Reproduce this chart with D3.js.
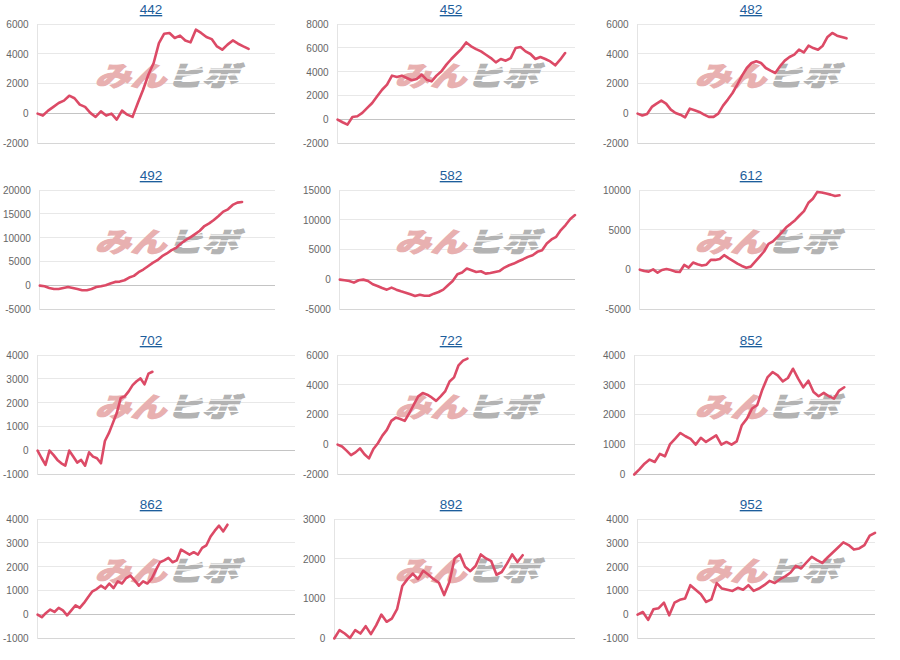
<!DOCTYPE html>
<html><head><meta charset="utf-8">
<script src="https://cdn.jsdelivr.net/npm/d3@7"></script>
<style>body{margin:0;background:#fff;} svg{display:block}</style>
</head><body><svg id="c" width="900" height="660"></svg>
<script>
// ---- data ----
const titles = ["442","452","482","492","582","612","702","722","852","862","892","952"];
const v442 = [0,-130,200,450,710,870,1200,1030,600,450,50,-220,150,-130,0,-400,200,-70,-220,710,1600,2600,3390,4720,5350,5400,5060,5220,4900,4770,5620,5400,5130,4990,4500,4280,4620,4900,4680,4500,4330];
const v452 = [0,-220,-420,220,280,560,975,1390,1950,2500,2920,3680,3560,3680,3480,3290,3400,3760,3340,3200,3680,4040,4600,5070,5490,5900,6460,6130,5900,5710,5430,5150,4790,5070,4930,5150,5990,6070,5710,5490,5070,5240,5070,4870,4540,5010,5570];
const v482 = [0,-130,-20,450,670,870,670,270,45,-70,-245,335,225,110,-70,-220,-220,0,535,940,1380,1940,2540,3055,3390,3500,3390,3055,2880,2720,3170,3550,3790,3950,4280,4100,4550,4390,4280,4550,5130,5400,5220,5130,5040];
const v492 = [0,-140,-490,-700,-700,-490,-280,-490,-700,-980,-980,-700,-280,-140,70,420,770,840,1120,1680,2030,2800,3360,4060,4760,5320,6160,6720,7420,7910,8820,9520,10080,10780,11480,12460,13020,13720,14560,15470,15960,16870,17360,17500];
const v582 = [0,-110,-220,-500,-110,0,-220,-780,-1060,-1400,-1680,-1340,-1680,-1960,-2180,-2460,-2740,-2520,-2690,-2690,-2350,-2070,-1680,-950,-220,900,1180,1850,1570,1290,1400,1010,1120,1290,1460,2020,2410,2690,3080,3420,3810,4090,4650,4930,6050,6720,7170,8290,9130,10140,10810];
const v612 = [0,-170,-250,40,-380,-40,85,-40,-250,-300,590,250,890,680,510,630,1225,1225,1350,1820,1440,1100,760,465,250,380,1010,1650,2280,3250,3550,4100,4690,5320,5750,6210,6800,7350,8400,8910,9760,9680,9550,9420,9250,9340];
const v702 = [0,-310,-600,0,-180,-390,-530,-630,0,-250,-500,-390,-630,-70,-250,-320,-530,400,730,1150,1570,2200,2270,2480,2740,2900,3020,2770,3220,3300];
const v722 = [0,-130,-400,-700,-520,-250,-650,-920,-290,90,600,990,1590,1810,1720,1590,2100,2670,3230,3450,3340,3160,2930,3230,3560,4230,4500,5310,5620,5760];
const v852 = [0,170,360,500,420,690,610,1020,1200,1390,1280,1190,1000,1230,1090,1200,1310,1000,1090,1000,1110,1650,1870,2210,2320,2840,3250,3430,3320,3120,3230,3540,3210,2920,3140,2760,2620,2730,2620,2540,2810,2920];
const v862 = [0,-110,70,210,110,280,180,-30,180,390,280,490,740,975,1070,1210,1090,1300,1110,1390,1300,1530,1630,1430,1210,1390,1300,1490,1850,2190,2270,2370,2190,2270,2720,2610,2510,2610,2510,2790,2900,3270,3510,3720,3480,3760];
const v892 = [0,210,125,15,210,125,310,110,330,600,420,500,735,1320,1490,1630,1490,1700,1600,1490,1400,1090,1420,2010,2110,1800,1690,1820,2110,2010,1940,1600,1670,1880,2110,1920,2090];
const v952 = [0,110,-220,220,270,500,-30,500,620,670,1230,1040,850,530,640,1320,1090,1040,990,1120,1040,1230,990,1090,1230,1410,1320,1480,1600,1760,2040,1930,2180,2420,2280,2160,2390,2600,2810,3020,2910,2720,2770,2910,3300,3420];
const seriesValues = [v442,v452,v482,v492,v582,v612,v702,v722,v852,v862,v892,v952];
// number of x slots (days) on each chart's category axis
const slotCounts = [46,49,51,51,51,54,66,54,48,62,47,46];
const ticksA = [-2000,0,2000,4000,6000];
const ticksB = [-2000,0,2000,4000,6000,8000];
const ticksC = [-5000,0,5000,10000,15000,20000];
const ticksD = [-5000,0,5000,10000,15000];
const ticksE = [-5000,0,5000,10000];
const ticksF = [-1000,0,1000,2000,3000,4000];
const ticksG = [0,1000,2000,3000,4000];
const ticksH = [0,1000,2000,3000];
const tickSets = [ticksA,ticksB,ticksA,ticksC,ticksD,ticksE,ticksF,ticksA,ticksG,ticksF,ticksH,ticksF];

// ---- layout ----
const svg = d3.select("#c");
const rowTops = [24,190,355,519];
const plotH = 119.5;
const wide = new Set(["702","862"]);
const lineColor = "#dc4a66";

titles.forEach((t,i)=>{
  const col = i%3, row = Math.floor(i/3);
  const ox = col*300, top = rowTops[row];
  const ticks = tickSets[i];
  const g = svg.append("g");
  const tmp = g.append("g").style("font","10px 'Liberation Sans', Arial, sans-serif");
  let maxW = 0;
  ticks.forEach(v=>{ const n = tmp.append("text").text(String(v)).node(); maxW = Math.max(maxW, n.getComputedTextLength()); });
  tmp.remove();
  const left = ox + 3 + maxW + 9;
  const right = ox + (wide.has(t) ? 295 : 275);
  const y = d3.scaleLinear().domain(d3.extent(ticks)).range([top+plotH, top]);
  const x = d3.scaleLinear().domain([0, slotCounts[i]-1]).range([left, right]);

  g.append("text").attr("x", ox+151).attr("y", top-10).attr("text-anchor","middle")
    .style("font","13.5px 'Liberation Sans', Arial, sans-serif").attr("fill","#1d5e9c")
    .style("text-decoration","underline").text(t);

  const yMin = d3.min(ticks);
  ticks.forEach(v=>{
    g.append("line").attr("x1",left).attr("x2",right).attr("y1",y(v)).attr("y2",y(v))
      .attr("stroke", v===0 ? "#c4c4c4" : (v===yMin ? "#d6d6d6" : "#e8e8e8")).attr("stroke-width",1).attr("shape-rendering","crispEdges");
  });
  g.append("line").attr("x1",left).attr("x2",left).attr("y1",top).attr("y2",top+plotH)
    .attr("stroke","#e4e4e4").attr("shape-rendering","crispEdges");

  const ax = d3.axisLeft(y).tickValues(ticks).tickSize(0).tickPadding(9).tickFormat(d=>String(d));
  const ag = g.append("g").attr("transform",`translate(${left},0)`).call(ax);
  ag.select(".domain").remove();
  ag.selectAll("text").style("font","10px 'Liberation Sans', Arial, sans-serif").attr("fill","#666");

  // watermark
  const wm = g.append("g").attr("transform",`translate(${ox+166},${top+62}) scale(1.05,0.8) skewX(-16)`)
    .style("font","900 34px 'Noto Sans CJK JP', sans-serif");
  const wt = wm.append("text").attr("text-anchor","middle").attr("y",0);
  wt.append("tspan").attr("fill","#e8b0b0").attr("stroke","#e8b0b0").attr("stroke-width",1.4).text("みん");
  wt.append("tspan").attr("fill","#b3b3b3").attr("stroke","#b3b3b3").attr("stroke-width",1.4).text("ヒボ");
  [-21,-14,-7].forEach(dy=>{
    wm.append("line").attr("x1",2).attr("x2",72).attr("y1",dy).attr("y2",dy)
      .attr("stroke","#fff").attr("stroke-width",1.6);
  });

  const vals = seriesValues[i];
  const line = d3.line().x((d,k)=>x(k)).y(d=>y(d));
  g.append("path").datum(vals).attr("d", line).attr("fill","none")
    .attr("stroke", lineColor).attr("stroke-width",2.6).attr("stroke-linejoin","round").attr("stroke-linecap","round");
});
</script></body></html>
